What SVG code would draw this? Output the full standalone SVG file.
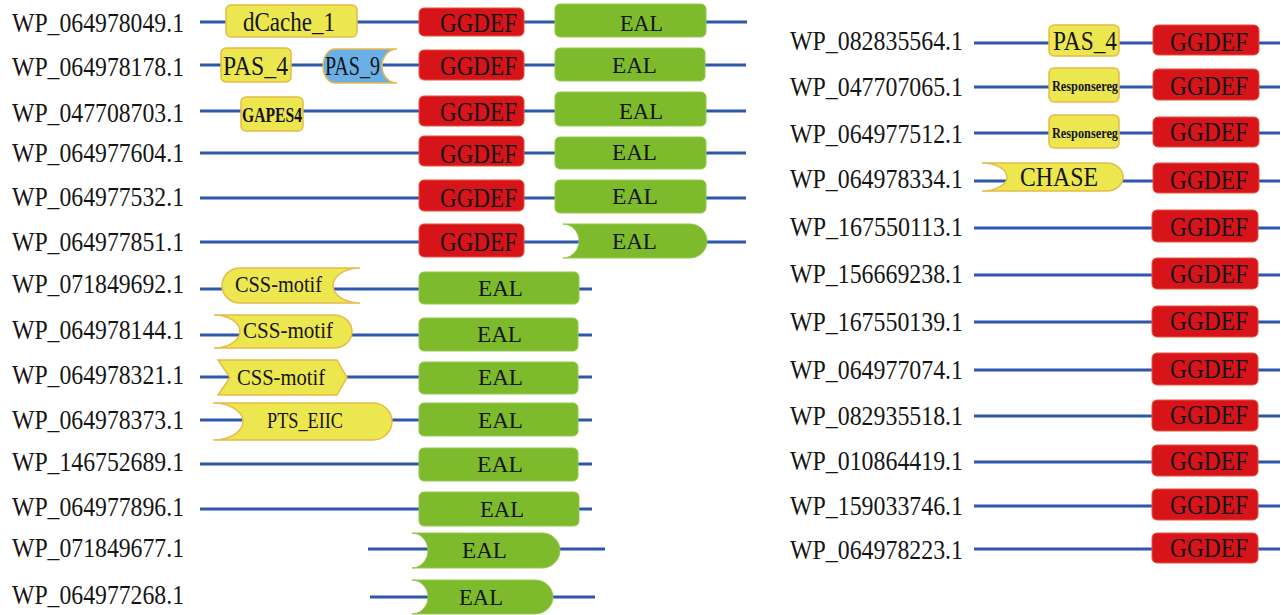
<svg xmlns="http://www.w3.org/2000/svg" width="1281" height="615" viewBox="0 0 1281 615" font-family="'Liberation Serif', 'Times New Roman', serif">
<style>
text{font-family:'Liberation Serif','Times New Roman',serif;fill:#151515}
.lbl{font-size:27px}
.dom{font-size:27px}
.eal{font-size:24px}
.sm{font-size:20px;font-weight:bold}
.xs{font-size:14px;font-weight:bold}
.ln{stroke:#2d57a8;stroke-width:3;fill:none}
.r{fill:#d8141b;stroke:#e9553a;stroke-width:1}
.g{fill:#7dbb2c;stroke:#93c94c;stroke-width:1}
.y{fill:#ece74e;stroke:#e6bb4a;stroke-width:1.5}
.b{fill:#6aafe6;stroke:#e6bb4a;stroke-width:1.5}
</style>
<rect width="1281" height="615" fill="#ffffff"/>
<g id="connectors">
<line class="ln" x1="200" y1="22" x2="747" y2="22"/>
<line class="ln" x1="200" y1="65" x2="746" y2="65"/>
<line class="ln" x1="200" y1="111" x2="746" y2="111"/>
<line class="ln" x1="200" y1="153" x2="746" y2="153"/>
<line class="ln" x1="200" y1="198" x2="746" y2="198"/>
<line class="ln" x1="200" y1="242" x2="746" y2="242"/>
<line class="ln" x1="200" y1="289" x2="592" y2="289"/>
<line class="ln" x1="200" y1="335" x2="592" y2="335"/>
<line class="ln" x1="200" y1="377" x2="592" y2="377"/>
<line class="ln" x1="200" y1="420" x2="592" y2="420"/>
<line class="ln" x1="200" y1="464" x2="592" y2="464"/>
<line class="ln" x1="200" y1="509" x2="592" y2="509"/>
<line class="ln" x1="368" y1="549" x2="605" y2="549"/>
<line class="ln" x1="370" y1="597" x2="595" y2="597"/>
<line class="ln" x1="974" y1="43" x2="1280" y2="43"/>
<line class="ln" x1="974" y1="87" x2="1280" y2="87"/>
<line class="ln" x1="974" y1="133" x2="1280" y2="133"/>
<line class="ln" x1="974" y1="181" x2="1280" y2="181"/>
<line class="ln" x1="974" y1="228" x2="1280" y2="228"/>
<line class="ln" x1="974" y1="275" x2="1280" y2="275"/>
<line class="ln" x1="974" y1="322" x2="1280" y2="322"/>
<line class="ln" x1="974" y1="370" x2="1280" y2="370"/>
<line class="ln" x1="974" y1="416" x2="1280" y2="416"/>
<line class="ln" x1="974" y1="462" x2="1280" y2="462"/>
<line class="ln" x1="974" y1="506" x2="1280" y2="506"/>
<line class="ln" x1="974" y1="549" x2="1280" y2="549"/>
</g>

<!-- Left column -->
<g id="row-WP_064978049">
<text class="lbl" x="12" y="32" textLength="172" lengthAdjust="spacingAndGlyphs">WP_064978049.1</text>
<rect class="y" x="226" y="5" width="131" height="32" rx="5"/>
<text class="dom" x="243" y="31" textLength="92" lengthAdjust="spacingAndGlyphs">dCache_1</text>
<rect class="r" x="419" y="8" width="105" height="28" rx="5"/>
<text class="dom" x="440" y="32" textLength="77" lengthAdjust="spacingAndGlyphs">GGDEF</text>
<rect class="g" x="555" y="4" width="151" height="33" rx="5"/>
<text class="eal" x="620" y="31" textLength="43" lengthAdjust="spacingAndGlyphs">EAL</text>
</g>
<g id="row-WP_064978178">
<text class="lbl" x="12" y="76" textLength="172" lengthAdjust="spacingAndGlyphs">WP_064978178.1</text>
<rect class="y" x="221" y="48" width="70" height="34" rx="5"/>
<text class="dom" x="223" y="75" textLength="65" lengthAdjust="spacingAndGlyphs">PAS_4</text>
<path class="b" d="M335,49 H397 A15,17 0 0 0 397,83 H335 A12,17 0 0 1 335,49 Z"/>
<text class="dom" x="325" y="75" textLength="55" lengthAdjust="spacingAndGlyphs">PAS_9</text>
<rect class="r" x="419" y="50" width="105" height="30" rx="5"/>
<text class="dom" x="440" y="75" textLength="77" lengthAdjust="spacingAndGlyphs">GGDEF</text>
<rect class="g" x="555" y="48" width="150" height="33" rx="5"/>
<text class="eal" x="612" y="73" textLength="45" lengthAdjust="spacingAndGlyphs">EAL</text>
</g>
<g id="row-WP_047708703">
<text class="lbl" x="12" y="122" textLength="172" lengthAdjust="spacingAndGlyphs">WP_047708703.1</text>
<rect class="y" x="241" y="97" width="62" height="34" rx="5"/>
<text class="sm" x="242" y="122" textLength="60" lengthAdjust="spacingAndGlyphs">GAPES4</text>
<rect class="r" x="419" y="96" width="105" height="30" rx="5"/>
<text class="dom" x="440" y="121" textLength="77" lengthAdjust="spacingAndGlyphs">GGDEF</text>
<rect class="g" x="555" y="92" width="151" height="34" rx="5"/>
<text class="eal" x="619" y="119" textLength="44" lengthAdjust="spacingAndGlyphs">EAL</text>
</g>
<g id="row-WP_064977604">
<text class="lbl" x="12" y="162" textLength="172" lengthAdjust="spacingAndGlyphs">WP_064977604.1</text>
<rect class="r" x="419" y="136" width="105" height="30" rx="5"/>
<text class="dom" x="440" y="163" textLength="77" lengthAdjust="spacingAndGlyphs">GGDEF</text>
<rect class="g" x="555" y="137" width="151" height="32" rx="5"/>
<text class="eal" x="612" y="160" textLength="45" lengthAdjust="spacingAndGlyphs">EAL</text>
</g>
<g id="row-WP_064977532">
<text class="lbl" x="12" y="206" textLength="172" lengthAdjust="spacingAndGlyphs">WP_064977532.1</text>
<rect class="r" x="419" y="180" width="105" height="31" rx="5"/>
<text class="dom" x="440" y="207" textLength="77" lengthAdjust="spacingAndGlyphs">GGDEF</text>
<rect class="g" x="555" y="180" width="151" height="33" rx="5"/>
<text class="eal" x="612" y="204" textLength="46" lengthAdjust="spacingAndGlyphs">EAL</text>
</g>
<g id="row-WP_064977851">
<text class="lbl" x="12" y="251" textLength="172" lengthAdjust="spacingAndGlyphs">WP_064977851.1</text>
<rect class="r" x="419" y="224" width="105" height="33" rx="5"/>
<text class="dom" x="440" y="251" textLength="77" lengthAdjust="spacingAndGlyphs">GGDEF</text>
<path class="g" d="M563,224 H690 A17,17 0 0 1 690,258 H563 A16,17 0 0 0 563,224 Z"/>
<text class="eal" x="612" y="249" textLength="45" lengthAdjust="spacingAndGlyphs">EAL</text>
</g>
<g id="row-WP_071849692">
<text class="lbl" x="12" y="293" textLength="172" lengthAdjust="spacingAndGlyphs">WP_071849692.1</text>
<path class="y" d="M240,268 H360 A27,17.5 0 0 0 360,303 H240 A18,17.5 0 0 1 240,268 Z"/>
<text class="eal" x="235" y="292" textLength="87" lengthAdjust="spacingAndGlyphs">CSS-motif</text>
<rect class="g" x="419" y="272" width="160" height="32" rx="5"/>
<text class="eal" x="478" y="296" textLength="45" lengthAdjust="spacingAndGlyphs">EAL</text>
</g>
<g id="row-WP_064978144">
<text class="lbl" x="12" y="339" textLength="172" lengthAdjust="spacingAndGlyphs">WP_064978144.1</text>
<path class="y" d="M214,315 H334 A18,16.5 0 0 1 334,348 H214 A26,16.5 0 0 0 214,315 Z"/>
<text class="eal" x="243" y="338" textLength="90" lengthAdjust="spacingAndGlyphs">CSS-motif</text>
<rect class="g" x="419" y="318" width="159" height="33" rx="5"/>
<text class="eal" x="477" y="342" textLength="45" lengthAdjust="spacingAndGlyphs">EAL</text>
</g>
<g id="row-WP_064978321">
<text class="lbl" x="12" y="384" textLength="172" lengthAdjust="spacingAndGlyphs">WP_064978321.1</text>
<polygon class="y" points="218,360 337,360 347,377.5 337,395 218,395 230,377.5"/>
<text class="eal" x="237" y="385" textLength="88" lengthAdjust="spacingAndGlyphs">CSS-motif</text>
<rect class="g" x="419" y="362" width="159" height="32" rx="5"/>
<text class="eal" x="478" y="385" textLength="45" lengthAdjust="spacingAndGlyphs">EAL</text>
</g>
<g id="row-WP_064978373">
<text class="lbl" x="12" y="429" textLength="172" lengthAdjust="spacingAndGlyphs">WP_064978373.1</text>
<path class="y" d="M213,403 H373 A19,18.5 0 0 1 373,440 H213 A30,18.5 0 0 0 213,403 Z"/>
<text class="eal" x="267" y="428" textLength="76" lengthAdjust="spacingAndGlyphs">PTS_EIIC</text>
<rect class="g" x="419" y="403" width="159" height="33" rx="5"/>
<text class="eal" x="478" y="428" textLength="45" lengthAdjust="spacingAndGlyphs">EAL</text>
</g>
<g id="row-WP_146752689">
<text class="lbl" x="12" y="471" textLength="172" lengthAdjust="spacingAndGlyphs">WP_146752689.1</text>
<rect class="g" x="419" y="448" width="159" height="33" rx="5"/>
<text class="eal" x="477" y="472" textLength="46" lengthAdjust="spacingAndGlyphs">EAL</text>
</g>
<g id="row-WP_064977896">
<text class="lbl" x="12" y="516" textLength="172" lengthAdjust="spacingAndGlyphs">WP_064977896.1</text>
<rect class="g" x="419" y="492" width="160" height="34" rx="5"/>
<text class="eal" x="480" y="517" textLength="44" lengthAdjust="spacingAndGlyphs">EAL</text>
</g>
<g id="row-WP_071849677">
<text class="lbl" x="12" y="557" textLength="172" lengthAdjust="spacingAndGlyphs">WP_071849677.1</text>
<path class="g" d="M412,533 H542 A18,17.5 0 0 1 542,568 H412 A16,17.5 0 0 0 412,533 Z"/>
<text class="eal" x="462" y="558" textLength="45" lengthAdjust="spacingAndGlyphs">EAL</text>
</g>
<g id="row-WP_064977268">
<text class="lbl" x="12" y="604" textLength="172" lengthAdjust="spacingAndGlyphs">WP_064977268.1</text>
<path class="g" d="M412,580 H535 A18,17 0 0 1 535,614 H412 A16,17 0 0 0 412,580 Z"/>
<text class="eal" x="459" y="605" textLength="44" lengthAdjust="spacingAndGlyphs">EAL</text>
</g>

<!-- Right column -->
<g id="row-WP_082835564">
<text class="lbl" x="790" y="50" textLength="173" lengthAdjust="spacingAndGlyphs">WP_082835564.1</text>
<rect class="y" x="1049" y="25" width="70" height="31" rx="5"/>
<text class="dom" x="1053" y="50" textLength="64" lengthAdjust="spacingAndGlyphs">PAS_4</text>
<rect class="r" x="1153" y="25" width="106" height="30" rx="5"/>
<text class="dom" x="1170" y="51" textLength="78" lengthAdjust="spacingAndGlyphs">GGDEF</text>
</g>
<g id="row-WP_047707065">
<text class="lbl" x="790" y="96" textLength="173" lengthAdjust="spacingAndGlyphs">WP_047707065.1</text>
<rect class="y" x="1049" y="68" width="70" height="34" rx="5"/>
<text class="xs" x="1052" y="91" textLength="66" lengthAdjust="spacingAndGlyphs">Responsereg</text>
<rect class="r" x="1153" y="69" width="106" height="31" rx="5"/>
<text class="dom" x="1170" y="95" textLength="78" lengthAdjust="spacingAndGlyphs">GGDEF</text>
</g>
<g id="row-WP_064977512">
<text class="lbl" x="790" y="143" textLength="173" lengthAdjust="spacingAndGlyphs">WP_064977512.1</text>
<rect class="y" x="1049" y="115" width="70" height="33" rx="5"/>
<text class="xs" x="1052" y="138" textLength="66" lengthAdjust="spacingAndGlyphs">Responsereg</text>
<rect class="r" x="1153" y="117" width="106" height="30" rx="5"/>
<text class="dom" x="1170" y="141" textLength="78" lengthAdjust="spacingAndGlyphs">GGDEF</text>
</g>
<g id="row-WP_064978334">
<text class="lbl" x="790" y="188" textLength="173" lengthAdjust="spacingAndGlyphs">WP_064978334.1</text>
<path class="y" d="M982,163 H1107 A16,14 0 0 1 1107,191 H982 A25,14 0 0 0 982,163 Z"/>
<text class="dom" x="1020" y="186" textLength="78" lengthAdjust="spacingAndGlyphs">CHASE</text>
<rect class="r" x="1153" y="163" width="106" height="30" rx="5"/>
<text class="dom" x="1170" y="189" textLength="78" lengthAdjust="spacingAndGlyphs">GGDEF</text>
</g>
<g id="row-WP_167550113">
<text class="lbl" x="790" y="236" textLength="173" lengthAdjust="spacingAndGlyphs">WP_167550113.1</text>
<rect class="r" x="1152" y="210" width="106" height="32" rx="5"/>
<text class="dom" x="1170" y="236" textLength="78" lengthAdjust="spacingAndGlyphs">GGDEF</text>
</g>
<g id="row-WP_156669238">
<text class="lbl" x="790" y="283" textLength="173" lengthAdjust="spacingAndGlyphs">WP_156669238.1</text>
<rect class="r" x="1152" y="258" width="106" height="31" rx="5"/>
<text class="dom" x="1170" y="283" textLength="78" lengthAdjust="spacingAndGlyphs">GGDEF</text>
</g>
<g id="row-WP_167550139">
<text class="lbl" x="790" y="331" textLength="173" lengthAdjust="spacingAndGlyphs">WP_167550139.1</text>
<rect class="r" x="1152" y="306" width="106" height="31" rx="5"/>
<text class="dom" x="1170" y="330" textLength="78" lengthAdjust="spacingAndGlyphs">GGDEF</text>
</g>
<g id="row-WP_064977074">
<text class="lbl" x="790" y="379" textLength="173" lengthAdjust="spacingAndGlyphs">WP_064977074.1</text>
<rect class="r" x="1152" y="353" width="106" height="32" rx="5"/>
<text class="dom" x="1170" y="378" textLength="78" lengthAdjust="spacingAndGlyphs">GGDEF</text>
</g>
<g id="row-WP_082935518">
<text class="lbl" x="790" y="425" textLength="173" lengthAdjust="spacingAndGlyphs">WP_082935518.1</text>
<rect class="r" x="1152" y="400" width="106" height="31" rx="5"/>
<text class="dom" x="1170" y="424" textLength="78" lengthAdjust="spacingAndGlyphs">GGDEF</text>
</g>
<g id="row-WP_010864419">
<text class="lbl" x="790" y="470" textLength="173" lengthAdjust="spacingAndGlyphs">WP_010864419.1</text>
<rect class="r" x="1152" y="445" width="106" height="31" rx="5"/>
<text class="dom" x="1170" y="470" textLength="78" lengthAdjust="spacingAndGlyphs">GGDEF</text>
</g>
<g id="row-WP_159033746">
<text class="lbl" x="790" y="515" textLength="173" lengthAdjust="spacingAndGlyphs">WP_159033746.1</text>
<rect class="r" x="1152" y="489" width="106" height="31" rx="5"/>
<text class="dom" x="1170" y="514" textLength="78" lengthAdjust="spacingAndGlyphs">GGDEF</text>
</g>
<g id="row-WP_064978223">
<text class="lbl" x="790" y="559" textLength="173" lengthAdjust="spacingAndGlyphs">WP_064978223.1</text>
<rect class="r" x="1152" y="533" width="106" height="30" rx="5"/>
<text class="dom" x="1170" y="557" textLength="78" lengthAdjust="spacingAndGlyphs">GGDEF</text>
</g>
</svg>
